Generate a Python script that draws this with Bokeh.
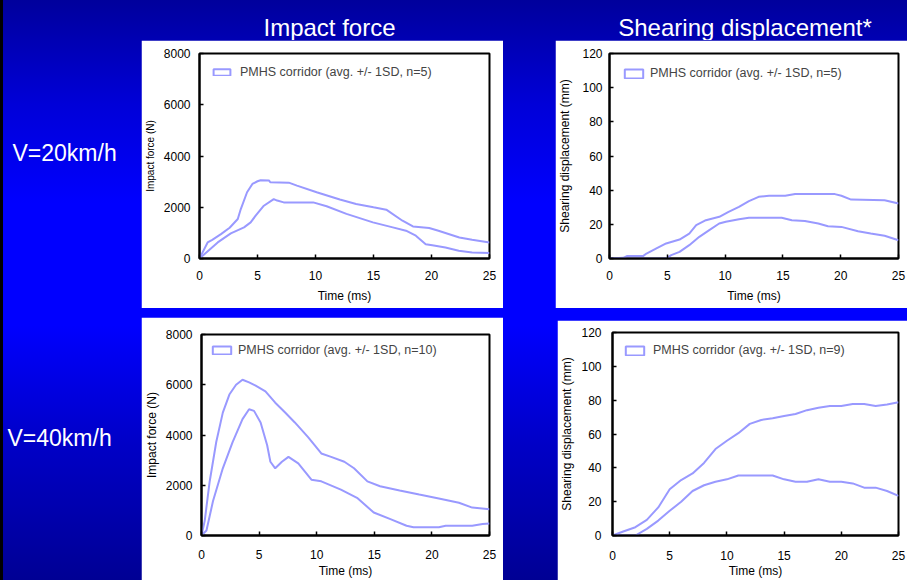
from bokeh.plotting import figure
from bokeh.layouts import row, column
from bokeh.models import Range1d, FixedTicker, Spacer, Legend
from bokeh.core.properties import value
from bokeh.embed import file_html
from bokeh.resources import INLINE

# ---------------- data ----------------
col_titles = ["Impact force", "Shearing displacement*"]
row_labels = ["V=20km/h", "V=40km/h"]

time_ticks = [0, 5, 10, 15, 20, 25]
force_ticks = [0, 2000, 4000, 6000, 8000]
shear_ticks = [0, 20, 40, 60, 80, 100, 120]

legend_texts = ["PMHS corridor (avg. +/- 1SD, n=5)",
                "PMHS corridor (avg. +/- 1SD, n=5)",
                "PMHS corridor (avg. +/- 1SD, n=10)",
                "PMHS corridor (avg. +/- 1SD, n=9)"]

# V=20 km/h, impact force (N)
f20_up_t = [0, 0.7, 1.1, 1.85, 2.6, 3.3, 3.56, 4.1, 4.56, 5.0, 5.27, 6.0, 6.1, 7.7, 8.4, 10.1,
            12.1, 13.5, 15.0, 16.1, 17.5, 18.4, 19.8, 20.6, 22.4, 23.5, 25]
f20_up_v = [0, 627, 730, 950, 1200, 1540, 1930, 2585, 2910, 3015, 3055, 3040, 2976, 2960, 2845, 2585,
            2300, 2130, 2000, 1905, 1475, 1250, 1190, 1085, 820, 730, 627]
f20_lo_t = [0, 1.57, 2.7, 3.84, 4.41, 4.84, 5.55, 6.4, 6.7, 7.26, 9.8, 10.96, 12.67, 14.95, 16.66,
            17.8, 18.65, 19.5, 20.07, 21.2, 22.35, 23.5, 25]
f20_lo_v = [0, 627, 980, 1215, 1410, 1670, 2060, 2320, 2260, 2190, 2190, 2040, 1740, 1410, 1215,
            1085, 890, 560, 520, 430, 300, 235, 210]

# V=20 km/h, shearing displacement (mm)
s20_up_t = [0, 1.2, 1.5, 2.9, 3.2, 4.06, 4.9, 6.06, 6.9, 7.5, 8.34, 9.5, 10.3, 11.2, 12.06, 12.9,
            13.8, 15.2, 16.06, 19.5, 20.06, 20.9, 23.8, 25]
s20_up_v = [0, 0.4, 1.4, 1.4, 2.9, 5.9, 8.8, 11.1, 14.6, 19.5, 22.4, 24.4, 27.3, 30.2, 33.6, 36.1,
            36.7, 36.7, 37.7, 37.7, 36.7, 34.5, 34.1, 32.2]
s20_lo_t = [0, 4.9, 5.34, 6.06, 6.9, 7.77, 8.63, 9.49, 10.06, 11.2, 12.06, 14.9, 15.77, 16.9, 18.06,
            18.9, 20.06, 21.5, 22.6, 23.8, 25]
s20_lo_v = [0, 0, 2.0, 3.9, 7.8, 12.7, 16.6, 20.5, 21.5, 23.0, 23.8, 23.8, 22.4, 21.9, 20.5,
            18.9, 18.5, 16.0, 14.6, 13.3, 10.7]

# V=40 km/h, impact force (N)
f40_up_t = [0, 0.28, 0.71, 1.28, 1.85, 2.42, 3.0, 3.56, 4.13, 4.7, 5.55, 6.4, 7.26, 8.1, 9.25, 10.4,
            11.25, 12.4, 13.24, 14.4, 15.5, 17.2, 18.9, 20.6, 22.35, 23.5, 25]
f40_up_v = [0, 587, 2150, 3720, 4890, 5610, 6000, 6200, 6095, 5965, 5740, 5285, 4895, 4500, 3915, 3265,
            3130, 2935, 2675, 2155, 1960, 1790, 1630, 1475, 1305, 1110, 1045]
f40_lo_t = [0, 0.43, 1.0, 1.85, 2.7, 3.56, 4.13, 4.56, 5.13, 5.7, 5.98, 6.4, 6.98, 7.55, 8.4, 9.54,
            10.4, 12.1, 13.5, 14.95, 16.4, 17.8, 18.4, 20.6, 21.2, 23.5, 24.4, 25]
f40_lo_v = [0, 196, 1370, 2675, 3720, 4630, 5025, 4960, 4500, 3590, 2935, 2675, 2935, 3130, 2870, 2220,
            2155, 1825, 1500, 915, 650, 390, 325, 325, 390, 390, 455, 480]

# V=40 km/h, shearing displacement (mm), sampled every 1 ms
s40_t = [0, 1, 2, 3, 4, 5, 6, 7, 8, 9, 10, 11, 12, 13, 14, 15, 16, 17, 18, 19, 20, 21, 22, 23, 24, 25]
s40_up_v = [0, 2.5, 4.9, 9.2, 16.6, 27.3, 32.8, 36.7, 42.9, 51.1, 56.0, 60.5, 66.0, 68.3, 69.3, 70.6,
            71.8, 74.1, 75.5, 76.5, 76.5, 77.7, 77.7, 76.5, 77.5, 78.8]
s40_lo_v = [0, 0, 0, 3.9, 8.8, 14.6, 19.9, 26.3, 29.7, 31.8, 33.2, 35.5, 35.5, 35.5, 35.5, 33.2,
            31.8, 31.8, 33.2, 31.8, 31.8, 30.8, 28.3, 28.3, 26.3, 23.4]

# ---------------- style ----------------
FONT = "Liberation Sans"
CORR = "#9999ff"
BG = ("linear-gradient(to bottom, #00009c 0%, #0000d8 18%, #0000ff 35%, #0000ff 56%, "
      "#0000c8 76%, #000094 100%)")


def chart(w, h, borders, y_max, y_ticks, y_label, y_label_size, upper, lower, legend_text, cfg):
    L, R, T, B = borders
    p = figure(width=w, height=h, output_backend="svg", toolbar_location=None,
               x_range=Range1d(0, 25), y_range=Range1d(0, y_max),
               min_border_left=L, min_border_right=R, min_border_top=T, min_border_bottom=B,
               border_fill_color="white", background_fill_color="white",
               outline_line_color="black", outline_line_width=2)
    p.xgrid.visible = False
    p.ygrid.visible = False
    p.line(upper[0], upper[1], line_color=CORR, line_width=2)
    p.line(lower[0], lower[1], line_color=CORR, line_width=2)
    # corridor polygon: used only for the legend swatch (outlined box)
    poly_x = list(upper[0]) + list(reversed(lower[0]))
    poly_y = list(upper[1]) + list(reversed(lower[1]))
    leg_r = p.patch(poly_x, poly_y, fill_color=None, line_color=CORR, line_width=2, visible=False)
    lg = Legend(items=[(legend_text, [leg_r])], location="top_left",
                margin=cfg["margin"], padding=0, spacing=0,
                glyph_width=cfg["gw"], glyph_height=cfg["gh"], label_standoff=cfg["ls"],
                label_height=cfg["gh"],
                label_text_font=FONT, label_text_font_size="12.5px",
                border_line_color=None, background_fill_alpha=0)
    p.add_layout(lg)

    xa, ya = p.xaxis[0], p.yaxis[0]
    xa.ticker = FixedTicker(ticks=time_ticks)
    ya.ticker = FixedTicker(ticks=y_ticks)
    xa.axis_label = "Time (ms)"
    ya.axis_label = y_label
    for ax in (xa, ya):
        ax.axis_line_width = 2
        ax.axis_line_color = "black"
        ax.major_tick_in = 4
        ax.major_tick_out = 0
        ax.major_tick_line_width = 1.5
        ax.minor_tick_in = 0
        ax.minor_tick_out = 0
        ax.major_label_text_font = FONT
        ax.major_label_text_font_size = "12px"
        ax.major_label_text_color = "black"
        ax.axis_label_text_font = FONT
        ax.axis_label_text_font_style = "normal"
        ax.axis_label_text_font_size = "12px"
        ax.axis_label_text_color = "black"
    ya.axis_label_text_font_size = y_label_size
    ya.major_label_standoff = cfg["ymls"]
    ya.axis_label_standoff = cfg["yals"]
    xa.major_label_standoff = cfg["xmls"]
    xa.axis_label_standoff = cfg["xals"]
    return p


def text_fig(w, h, xs, ys, texts, size, align):
    f = figure(width=w, height=h, x_range=Range1d(0, w), y_range=Range1d(0, h),
               output_backend="svg", toolbar_location=None, min_border=0,
               x_axis_type=None, y_axis_type=None, outline_line_color=None,
               border_fill_color=None, background_fill_color=None)
    f.text(x=xs, y=ys, text=texts, text_color="white", text_font=value(FONT),
           text_font_size=size, text_align=align, text_baseline="alphabetic")
    return f


p1 = chart(362, 268, (55, 14, 13, 50), 8000, force_ticks, "Impact force (N)", "10px",
           (f20_up_t, f20_up_v), (f20_lo_t, f20_lo_v), legend_texts[0],
           dict(margin=12, gw=21, gh=8, ls=8, ymls=9, yals=5, xmls=12, xals=6))
p2 = chart(352, 268, (51, 9, 13, 50), 120, shear_ticks, "Shearing displacement (mm)", "12px",
           (s20_up_t, s20_up_v), (s20_lo_t, s20_lo_v), legend_texts[1],
           dict(margin=13, gw=23, gh=11, ls=5, ymls=7, yals=7, xmls=12, xals=6))
p3 = chart(362, 263, (55, 14, 17, 42), 8000, force_ticks, "Impact force (N)", "12px",
           (f40_up_t, f40_up_v), (f40_lo_t, f40_lo_v), legend_texts[2],
           dict(margin=9, gw=23, gh=10, ls=5, ymls=9, yals=4, xmls=14, xals=2))
p4 = chart(350, 260, (51, 9, 12, 43), 120, shear_ticks, "Shearing displacement (mm)", "12px",
           (s40_t, s40_up_v), (s40_t, s40_lo_v), legend_texts[3],
           dict(margin=11, gw=23, gh=11, ls=7, ymls=11, yals=4, xmls=15, xals=1))

hdr = text_fig(904, 40, [326, 741.5], [12.7, 12.7], col_titles, "24px", "center")
lab1 = text_fig(138, 268, [9], [138], [row_labels[0]], "23px", "left")
lab2 = text_fig(138, 263, [4], [127], [row_labels[1]], "23px", "left")

main = column(
    hdr,
    row(lab1, p1, Spacer(width=52, height=268), p2),
    Spacer(width=904, height=9),
    row(lab2, p3, Spacer(width=54, height=263), column(Spacer(width=350, height=3), p4)),
)
strip = Spacer(width=3, height=580, styles={"background": "black"})
root = row(strip, main, styles={"background": BG})

open("out.html", "w").write(file_html(root, INLINE))
